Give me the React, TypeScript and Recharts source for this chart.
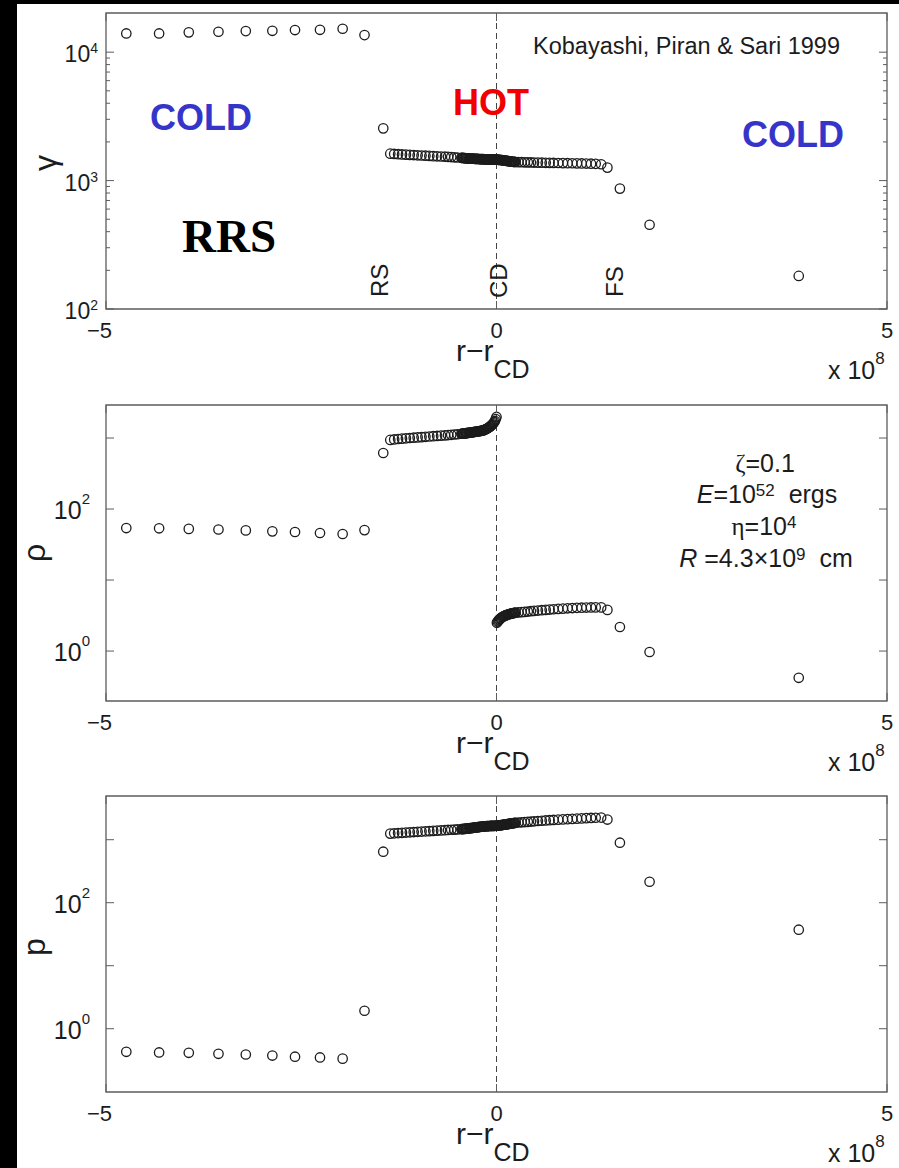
import React from "react";
import { ScatterChart, Scatter, XAxis, YAxis, ReferenceLine, ReferenceArea } from "recharts";

// r - r_CD in units of 1e8 cm; the same grid is used by all three panels
const coldLeftX = [-4.74, -4.32, -3.94, -3.56, -3.21, -2.87, -2.58, -2.26, -1.97, -1.69];
const hotLeftX = [
  -1.45,
  -1.36, -1.31, -1.26, -1.21, -1.16, -1.11, -1.06, -1.01, -0.96, -0.91, -0.86, -0.81, -0.76, -0.71, -0.66,
  -0.62, -0.58, -0.54, -0.5,
  -0.45, -0.44, -0.43, -0.42, -0.41, -0.4, -0.39, -0.38, -0.37, -0.36,
  -0.35, -0.34, -0.33, -0.32, -0.31, -0.3, -0.29, -0.28, -0.27, -0.26,
  -0.25, -0.24, -0.23, -0.22, -0.21, -0.2, -0.19, -0.18, -0.17, -0.16,
  -0.15, -0.14, -0.13, -0.12, -0.11, -0.1, -0.09, -0.08, -0.07, -0.06,
  -0.05, -0.04, -0.03, -0.02, -0.01, 0,
];
const hotRightX = [
  0.005, 0.015, 0.025, 0.035, 0.045, 0.055, 0.065, 0.075, 0.085, 0.095,
  0.105, 0.115, 0.125, 0.135, 0.145, 0.155, 0.165, 0.175, 0.185, 0.195,
  0.205, 0.215, 0.225, 0.235, 0.245,
  0.28, 0.32, 0.36, 0.4, 0.44, 0.48, 0.53, 0.58, 0.63, 0.68, 0.73, 0.79, 0.85, 0.91, 0.97, 1.03, 1.09,
  1.15, 1.21, 1.27, 1.34, 1.42,
];
const coldRightX = [1.58, 1.96, 3.87];

// Lorentz factor gamma
const gammaColdL = [13990, 13990, 14260, 14420, 14590, 14660, 14860, 14930, 15210, 13580];
const gammaHotL = [
  2550,
  1620, 1612, 1605, 1598, 1592, 1586, 1580, 1574, 1568, 1562, 1556, 1550, 1545, 1540, 1535, 1530, 1525, 1518, 1512,
  1505, 1503, 1501, 1499, 1497, 1495, 1493, 1491, 1489, 1487,
  1485, 1484, 1483, 1482, 1481, 1480, 1479, 1478, 1477, 1476,
  1475, 1474, 1473, 1472, 1471, 1470, 1469, 1468, 1467, 1466,
  1465, 1464, 1464, 1463, 1463, 1462, 1462, 1461, 1461, 1460,
  1460, 1460, 1459, 1459, 1458, 1458,
];
const gammaHotR = [
  1456, 1454, 1452, 1450, 1448, 1446, 1444, 1441, 1438, 1435,
  1432, 1429, 1426, 1423, 1420, 1417, 1414, 1411, 1408, 1405,
  1402, 1400, 1398, 1396, 1395,
  1393, 1390, 1388, 1386, 1384, 1382, 1380, 1378, 1376, 1374, 1372, 1370, 1368, 1366, 1364, 1362, 1360,
  1357, 1354, 1350, 1340, 1262,
];
const gammaColdR = [866, 453, 181];

// density rho
const rhoColdL = [54, 53.5, 52.5, 51.5, 50, 48.5, 47.5, 46, 44.5, 50.5];
const rhoHotL = [
  615,
  940, 955, 968, 980, 990, 1000, 1010, 1020, 1030, 1040, 1050, 1060, 1070, 1080, 1090, 1100, 1110, 1120, 1130,
  1148, 1151, 1155, 1158, 1162, 1166, 1170, 1174, 1178, 1182,
  1186, 1190, 1195, 1200, 1205, 1210, 1215, 1220, 1225, 1230,
  1235, 1240, 1245, 1250, 1255, 1261, 1267, 1273, 1280, 1295,
  1310, 1325, 1340, 1360, 1380, 1405, 1430, 1460, 1490, 1525,
  1560, 1610, 1670, 1740, 1850, 1980,
];
const rhoHotR = [
  2.5, 2.6, 2.69, 2.77, 2.84, 2.9, 2.96, 3.01, 3.06, 3.1,
  3.14, 3.18, 3.21, 3.24, 3.27, 3.3, 3.32, 3.34, 3.36, 3.38,
  3.4, 3.42, 3.44, 3.46, 3.48,
  3.5, 3.53, 3.56, 3.6, 3.64, 3.68, 3.72, 3.76, 3.8, 3.84, 3.88, 3.92, 3.96, 4.0, 4.03, 4.06, 4.08,
  4.1, 4.11, 4.12, 4.12, 3.8,
];
const rhoColdR = [2.18, 0.97, 0.42];

// pressure p
const pColdL = [0.43, 0.42, 0.415, 0.4, 0.39, 0.375, 0.36, 0.35, 0.335, 1.93];
const pHotL = [
  645,
  1250, 1262, 1274, 1286, 1298, 1310, 1322, 1334, 1346, 1358, 1370, 1382, 1394, 1406, 1418, 1428, 1438, 1446, 1454,
  1470, 1474, 1478, 1482, 1486, 1490, 1495, 1500, 1505, 1510,
  1516, 1522, 1528, 1534, 1540, 1546, 1552, 1558, 1564, 1570,
  1576, 1582, 1588, 1594, 1600, 1605, 1610, 1615, 1620, 1625,
  1630, 1634, 1638, 1642, 1645, 1648, 1650, 1652, 1654, 1656,
  1658, 1659, 1660, 1662, 1664, 1666,
];
const pHotR = [
  1670, 1674, 1680, 1686, 1693, 1700, 1708, 1716, 1724, 1732,
  1740, 1748, 1756, 1764, 1772, 1780, 1788, 1796, 1804, 1812,
  1820, 1830, 1840, 1850, 1860,
  1875, 1890, 1905, 1920, 1940, 1960, 1980, 2000, 2020, 2040, 2060, 2080, 2100, 2120, 2140, 2160, 2180,
  2200, 2215, 2230, 2245, 2090,
];
const pColdR = [896, 215, 37.3];

const xTicks = [-5, 0, 5];
const gammaTicks = [100, 200, 300, 400, 500, 600, 700, 800, 900, 1000, 2000, 3000, 4000, 5000, 6000, 7000, 8000, 9000, 10000];
const decadeTicks = [1, 10, 100, 1000];

const W = 899;
const H = 385;
const PL = 106;
const PR = 887;
const PT = 13;
const PB = 309;
const FONT = "'Liberation Sans', Arial, Helvetica, sans-serif";
const SERIF = "'Liberation Serif', 'Times New Roman', serif";
const INK = "#1c1c1c";
const FRAME = "#5c5c5c";

const xs = [...coldLeftX, ...hotLeftX, ...hotRightX, ...coldRightX];
const toPoints = (ys: number[]) => xs.map((x, i) => ({ x, y: ys[i] }));

const gammaData = toPoints([...gammaColdL, ...gammaHotL, ...gammaHotR, ...gammaColdR]);
const rhoData = toPoints([...rhoColdL, ...rhoHotL, ...rhoHotR, ...rhoColdR]);
const pData = toPoints([...pColdL, ...pHotL, ...pHotR, ...pColdR]);

function Ring(props: any) {
  const { cx, cy } = props;
  if (cx == null || cy == null) return <g />;
  return <circle cx={cx} cy={cy} r={4.7} fill="none" stroke={INK} strokeWidth={1.3} />;
}

function XTick(props: any) {
  const { x, payload } = props;
  const v = payload.value as number;
  const neg = v < 0;
  return (
    <g>
      <line x1={x} x2={x} y1={PB} y2={PB - 8} stroke={FRAME} />
      <line x1={x} x2={x} y1={PT} y2={PT + 8} stroke={FRAME} />
      <text
        x={neg ? x + 6 : x}
        y={PB + 29}
        textAnchor={neg ? "end" : "middle"}
        fontSize={22}
        fontFamily={FONT}
        fill={INK}
      >
        {neg ? `\u2212${-v}` : String(v)}
      </text>
    </g>
  );
}

interface TickStyle {
  labels: number[];
  right: number;
  size: number;
  sup: number;
  supDy: number;
}

const makeYTick = (st: TickStyle) => (props: any) => {
  const { y, payload } = props;
  const v = payload.value as number;
  const lg = Math.log10(v);
  const exp = Math.round(lg);
  const major = Math.abs(lg - exp) < 1e-9;
  const len = major ? 8 : 4;
  return (
    <g>
      <line x1={PL} x2={PL + len} y1={y} y2={y} stroke={FRAME} />
      <line x1={PR - len} x2={PR} y1={y} y2={y} stroke={FRAME} />
      {st.labels.includes(v) && (
        <text x={st.right} y={y + 10} textAnchor="end" fontSize={st.size} fontFamily={FONT} fill={INK}>
          10
          <tspan fontSize={st.sup} dy={st.supDy}>
            {exp}
          </tspan>
        </text>
      )}
    </g>
  );
};

interface PanelProps {
  top: number;
  data: { x: number; y: number }[];
  domain: [number, number];
  ticks: number[];
  tickStyle: TickStyle;
}

function Panel({ top, data, domain, ticks, tickStyle }: PanelProps) {
  return (
    <div style={{ position: "absolute", left: 0, top }}>
      <ScatterChart width={W} height={H} margin={{ top: PT, right: W - PR, left: 46, bottom: 46 }}>
        <XAxis
          type="number"
          dataKey="x"
          domain={[-5, 5]}
          ticks={xTicks}
          interval={0}
          tick={XTick}
          tickLine={false}
          axisLine={false}
          height={30}
          allowDataOverflow
        />
        <YAxis
          type="number"
          dataKey="y"
          scale="log"
          domain={domain}
          ticks={ticks}
          interval={0}
          tick={makeYTick(tickStyle)}
          tickLine={false}
          axisLine={false}
          width={60}
          allowDataOverflow
        />
        <ReferenceArea
          x1={-5}
          x2={5}
          y1={domain[0]}
          y2={domain[1]}
          fill="none"
          stroke={FRAME}
          strokeWidth={1.3}
          ifOverflow="visible"
        />
        <ReferenceLine x={0} stroke="#444" strokeDasharray="6 4" strokeWidth={1} />
        <Scatter data={data} shape={Ring} isAnimationActive={false} />
      </ScatterChart>
    </div>
  );
}

function AxisTitle({ t }: { t: number }) {
  return (
    <g fontFamily={FONT} fill={INK}>
      <text x={456} y={t + 361} fontSize={30}>
        r{"\u2212"}r
        <tspan fontSize={25} dy={17}>
          CD
        </tspan>
      </text>
      <text x={828} y={t + 379} fontSize={25}>
        x 10
        <tspan fontSize={17} dy={-15}>
          8
        </tspan>
      </text>
    </g>
  );
}

const PANEL_TOPS = [0, 392, 783];

export default function App() {
  return (
    <div style={{ position: "absolute", left: 0, top: 0, width: 899, height: 1168, background: "#000", overflow: "hidden" }}>
      <div style={{ position: "absolute", left: 17, top: 4, right: 0, bottom: 0, background: "#fff" }} />
      <Panel
        top={PANEL_TOPS[0]}
        data={gammaData}
        domain={[100, 20180]}
        ticks={gammaTicks}
        tickStyle={{ labels: [100, 1000, 10000], right: 98, size: 23, sup: 14, supDy: -9 }}
      />
      <Panel
        top={PANEL_TOPS[1]}
        data={rhoData}
        domain={[0.198, 2917]}
        ticks={decadeTicks}
        tickStyle={{ labels: [1, 100], right: 90, size: 25, sup: 15, supDy: -15 }}
      />
      <Panel
        top={PANEL_TOPS[2]}
        data={pData}
        domain={[0.099, 4940]}
        ticks={decadeTicks}
        tickStyle={{ labels: [1, 100], right: 90, size: 25, sup: 15, supDy: -15 }}
      />
      <svg width={899} height={1168} style={{ position: "absolute", left: 0, top: 0, pointerEvents: "none" }}>
        {PANEL_TOPS.map((t) => (
          <AxisTitle key={t} t={t} />
        ))}

        {/* y labels */}
        <g fontFamily={FONT} fill={INK} fontSize={32} textAnchor="middle">
          <text transform="translate(56,163) rotate(-90)">γ</text>
          <text transform="translate(45,553) rotate(-90)">ρ</text>
          <text transform="translate(45,947) rotate(-90)">p</text>
        </g>

        {/* panel 1 notes */}
        <text x={533} y={54} fontSize={23.5} fontFamily={FONT} fill={INK}>
          Kobayashi, Piran &amp; Sari 1999
        </text>
        <g fontFamily={FONT} fontWeight="bold" fontSize={36}>
          <text x={150} y={130} fill="#3535c9">COLD</text>
          <text x={742} y={147} fill="#3535c9">COLD</text>
          <text x={453} y={115} fill="#f00000">HOT</text>
        </g>
        <text x={182} y={252} fontSize={47} fontWeight="bold" fontFamily={SERIF} fill="#000">
          RRS
        </text>
        <g fontFamily={FONT} fontSize={24} fill={INK}>
          <text transform="translate(388,297) rotate(-90)">RS</text>
          <text transform="translate(507,298) rotate(-90)">CD</text>
          <text transform="translate(623,297) rotate(-90)">FS</text>
        </g>

        {/* panel 2 parameters */}
        <g fontFamily={FONT} fontSize={25} fill={INK} textAnchor="middle">
          <text x={765} y={472}>
            <tspan fontFamily={SERIF}>ζ</tspan>=0.1
          </text>
          <text x={767} y={503}>
            <tspan fontStyle="italic">E</tspan>=10
            <tspan fontSize={17} dy={-7}>52</tspan>
            <tspan dy={7}>{"\u00a0\u00a0ergs"}</tspan>
          </text>
          <text x={764} y={535}>
            <tspan fontFamily={SERIF}>η</tspan>=10
            <tspan fontSize={17} dy={-7}>4</tspan>
          </text>
          <text x={766} y={567}>
            <tspan fontStyle="italic">R</tspan>
            {"\u00a0=4.3\u00d710"}
            <tspan fontSize={17} dy={-7}>9</tspan>
            <tspan dy={7}>{"\u00a0\u00a0cm"}</tspan>
          </text>
        </g>
      </svg>
    </div>
  );
}
